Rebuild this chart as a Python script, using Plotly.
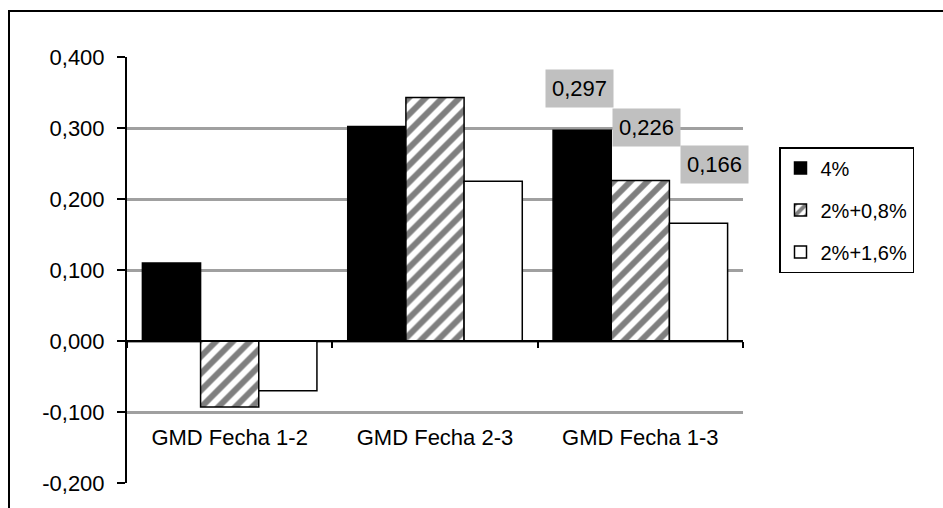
import plotly.graph_objects as go

categories = ["GMD Fecha 1-2", "GMD Fecha 2-3", "GMD Fecha 1-3"]
series_names = ["4%", "2%+0,8%", "2%+1,6%"]
values_4 = [0.110, 0.302, 0.297]
values_2_08 = [-0.093, 0.343, 0.226]
values_2_16 = [-0.070, 0.225, 0.166]
y_tick_vals = [-0.2, -0.1, 0.0, 0.1, 0.2, 0.3, 0.4]
y_tick_text = ["-0,200", "-0,100", "0,000", "0,100", "0,200", "0,300", "0,400"]
label_category_index = 2
label_texts = ["0,297", "0,226", "0,166"]

FONT = "Liberation Sans, Arial, sans-serif"
W, H = 943, 508
L, R, T, B = 127, 200, 57, 25
pw, ph = W - L - R, H - T - B

fig = go.Figure()
all_vals = [values_4, values_2_08, values_2_16]
styles = [
    dict(color="black", line=dict(color="black", width=1.5)),
    dict(color="white", line=dict(color="black", width=1.5),
         pattern=dict(shape="/", fgcolor="black", size=12, solidity=0.5)),
    dict(color="white", line=dict(color="black", width=1.5)),
]
for i, (name, vals, st) in enumerate(zip(series_names, all_vals, styles)):
    fig.add_trace(go.Bar(x=categories, y=vals, name=name, marker=st,
                         legendgroup=f"g{i}", hoverinfo="skip"))

# dummy trace for the label axis
fig.add_trace(go.Scatter(x=categories, y=[None] * len(categories), xaxis="x2",
                         showlegend=False, hoverinfo="skip", mode="markers"))

# data labels on the last group
bargap = 0.15
bw = (1 - bargap) / 3
offsets = [-bw, 0, bw]
label_xshift = [-3, 6, 16]
label_yshift = [42, 53, 59]
for k, vals in enumerate(all_vals):
    fig.add_annotation(
        x=label_category_index + offsets[k], y=vals[label_category_index],
        xref="x", yref="y", text=label_texts[k], showarrow=False,
        xshift=label_xshift[k], yshift=label_yshift[k],
        bgcolor="#c0c0c0", borderpad=6,
        font=dict(family=FONT, size=22, color="black"))

# outer border
fig.add_shape(type="rect", xref="paper", yref="paper",
              x0=(9 - L) / pw, x1=(W + 10 - L) / pw,
              y0=-(B + 10) / ph, y1=(H - B - 11) / ph,
              line=dict(color="black", width=2), fillcolor="rgba(0,0,0,0)",
              layer="below")

fig.update_layout(
    width=W, height=H,
    margin=dict(l=L, r=R, t=T, b=B),
    paper_bgcolor="white", plot_bgcolor="white",
    barmode="group", bargap=bargap, bargroupgap=0,
    font=dict(family=FONT, size=22, color="black"),
    showlegend=True,
    legend=dict(x=(779 - L) / pw, y=(H - B - 147) / ph, xanchor="left", yanchor="top",
                bordercolor="black", borderwidth=1.5, bgcolor="white",
                font=dict(family=FONT, size=20), traceorder="grouped",
                tracegroupgap=13, itemwidth=30),
    xaxis=dict(type="category", range=[-0.5, 2.5], anchor="free", position=1 / 3,
               showline=True, linecolor="black", linewidth=2,
               ticks="outside", ticklen=6, tickwidth=1.5, tickcolor="black",
               tickson="boundaries", showticklabels=False, showgrid=False,
               zeroline=False, fixedrange=True),
    xaxis2=dict(type="category", range=[-0.5, 2.5], overlaying="x", anchor="free",
                position=(483 - 422) / ph, side="bottom", showline=False,
                ticks="", showgrid=False, zeroline=False,
                tickfont=dict(family=FONT, size=22, color="black")),
    yaxis=dict(range=[-0.2, 0.4], tickvals=y_tick_vals, ticktext=y_tick_text,
               showline=True, linecolor="black", linewidth=2,
               ticks="outside", ticklen=8, tickwidth=2, tickcolor="black",
               showgrid=True, gridcolor="#a0a0a0", gridwidth=2.5,
               zeroline=False, tickfont=dict(family=FONT, size=22, color="black"),
               ticklabelstandoff=8),
)

fig.write_html("out.html")
